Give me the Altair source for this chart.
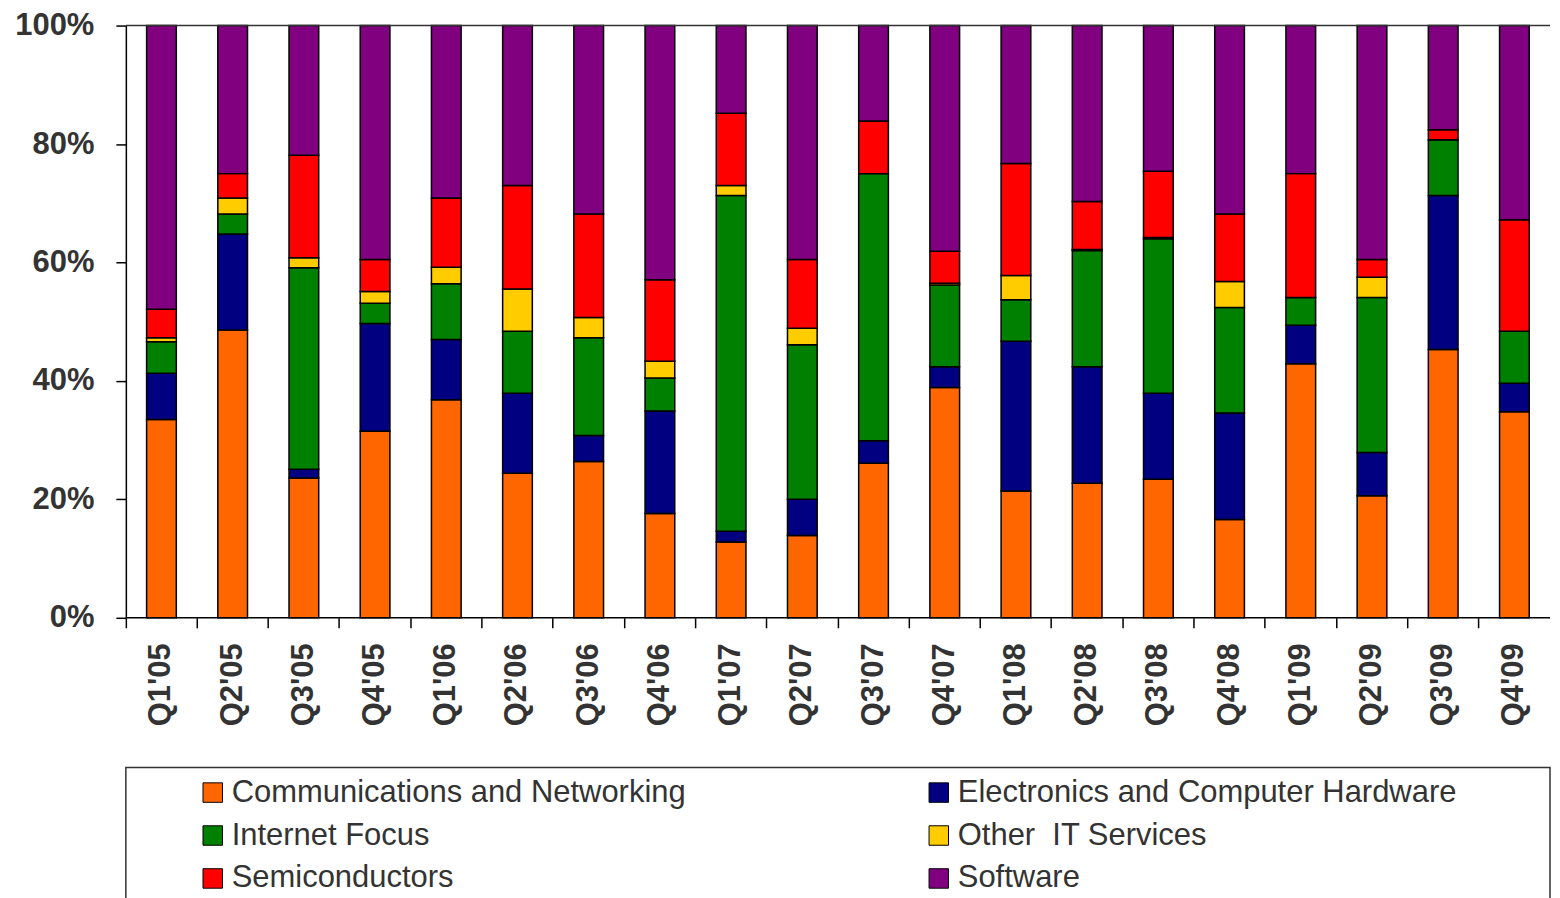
import altair as alt
import pandas as pd

quarters = ["Q1'05", "Q2'05", "Q3'05", "Q4'05", "Q1'06", "Q2'06", "Q3'06", "Q4'06",
            "Q1'07", "Q2'07", "Q3'07", "Q4'07", "Q1'08", "Q2'08", "Q3'08", "Q4'08",
            "Q1'09", "Q2'09", "Q3'09", "Q4'09"]

categories = ["Communications and Networking", "Electronics and Computer Hardware",
              "Internet Focus", "Other\u00a0 IT Services", "Semiconductors", "Software"]
colors = ["#FF6600", "#000080", "#008000", "#FFCC00", "#FF0000", "#800080"]

comm = [33.5, 48.6, 23.6, 31.5, 36.8, 24.4, 26.4, 17.6, 12.8, 13.9, 26.1, 38.9, 21.4, 22.7, 23.4, 16.6, 42.9, 20.6, 45.3, 34.8]
elec = [7.8, 16.2, 1.5, 18.2, 10.2, 13.5, 4.4, 17.3, 1.8, 6.1, 3.8, 3.5, 25.3, 19.7, 14.5, 18.0, 6.5, 7.3, 26.0, 4.8]
internet = [5.3, 3.4, 34.0, 3.4, 9.4, 10.5, 16.5, 5.6, 56.7, 26.1, 45.1, 13.8, 7.0, 19.6, 26.1, 17.8, 4.7, 26.2, 9.4, 8.8]
other_it = [0.7, 2.7, 1.7, 2.0, 2.8, 7.1, 3.4, 2.8, 1.7, 2.8, 0.0, 0.3, 4.1, 0.2, 0.2, 4.4, 0.0, 3.4, 0.0, 0.0]
semis = [4.8, 4.1, 17.3, 5.4, 11.7, 17.5, 17.5, 13.8, 12.2, 11.6, 8.9, 5.4, 18.9, 8.1, 11.2, 11.4, 20.9, 3.0, 1.7, 18.8]
software = [47.9, 25.0, 21.9, 39.5, 29.1, 27.0, 31.8, 42.9, 14.8, 39.5, 16.1, 38.1, 23.3, 29.7, 24.6, 31.8, 25.0, 39.5, 17.6, 32.8]

series = [comm, elec, internet, other_it, semis, software]

rows = []
for ci, (cat, vals) in enumerate(zip(categories, series)):
    for q, v in zip(quarters, vals):
        rows.append({"quarter": q, "category": cat, "idx": ci, "value": v})
df = pd.DataFrame(rows)

leg_df = pd.DataFrame({
    "category": categories,
    "col": [i % 2 for i in range(len(categories))],
    "row": [i // 2 for i in range(len(categories))],
})

FONT = "Liberation Sans"
color_scale = alt.Scale(domain=categories, range=colors)

bars = alt.Chart(df).mark_bar(
    stroke="black", strokeWidth=1.5, width=alt.RelativeBandSize(0.417)
).encode(
    x=alt.X("quarter:N", sort=quarters,
            scale=alt.Scale(paddingInner=0, paddingOuter=0),
            axis=alt.Axis(title=None, labelAngle=270, labelFont=FONT, labelFontSize=31,
                          labelFontWeight="bold", labelColor="#333333", tickSize=10,
                          tickColor="black", tickWidth=1.5, domain=False,
                          bandPosition=0, labelPadding=15)),
    y=alt.Y("value:Q", stack="normalize", scale=alt.Scale(domain=[0, 1]),
            axis=alt.Axis(title=None, values=[0, 0.2, 0.4, 0.6, 0.8, 1.0], format=".0%",
                          labelFont=FONT, labelFontSize=31, labelFontWeight="bold",
                          labelColor="#333333", tickSize=10, tickColor="black",
                          tickWidth=1.5, domainColor="black", domainWidth=1.5,
                          grid=False, labelPadding=22)),
    color=alt.Color("category:N", scale=color_scale, legend=None),
    order=alt.Order("idx:Q", sort="ascending"),
)

top_line = alt.Chart().mark_rule(color="#333333", strokeWidth=1.5).encode(y=alt.datum(1))
base_line = alt.Chart().mark_rule(color="black", strokeWidth=1.5).encode(y=alt.datum(0))

main = alt.layer(bars, top_line, base_line).properties(
    width=1426, height=593, view=alt.ViewBackground(stroke="transparent")
)

leg_base = alt.Chart(leg_df).encode(
    x=alt.X("col:Q", scale=alt.Scale(domain=[0, 1], range=[87, 814]), axis=None),
    y=alt.Y("row:Q", scale=alt.Scale(domain=[0, 2], range=[25, 111]), axis=None),
)
leg_sq = leg_base.mark_square(size=380, stroke="black", strokeWidth=1, opacity=1).encode(
    color=alt.Color("category:N", scale=color_scale, legend=None)
)
leg_txt = leg_base.mark_text(align="left", baseline="middle", dx=19, font=FONT,
                             fontSize=31, color="#333333").encode(text="category:N")
legend = alt.layer(leg_sq, leg_txt).properties(
    width=1426, height=150,
    view=alt.ViewBackground(stroke="#333333", strokeWidth=1.5)
)

chart = alt.vconcat(main, legend, spacing=150, bounds="flush").properties(
    padding={"left": 6, "top": 0, "right": 0, "bottom": 0}
)

chart.save("out.html", embed_options={"renderer": "svg", "actions": False})
